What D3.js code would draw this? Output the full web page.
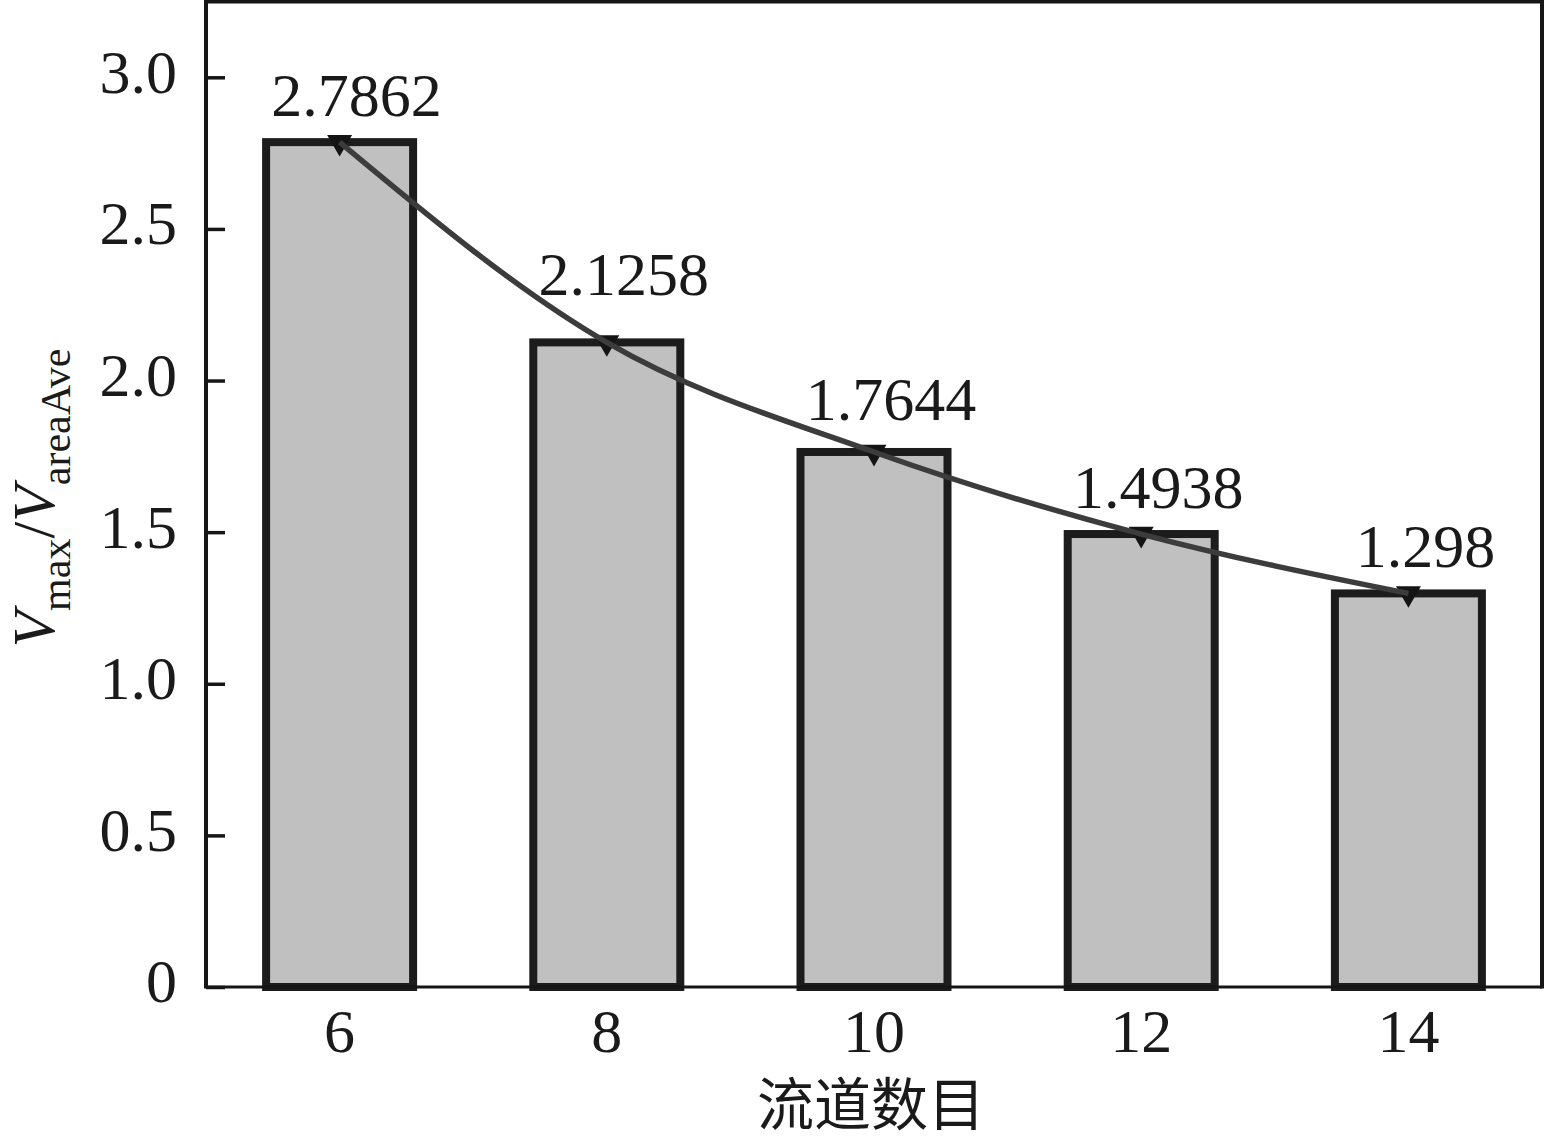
<!DOCTYPE html>
<html>
<head>
<meta charset="utf-8">
<script src="https://cdn.jsdelivr.net/npm/d3@7"></script>
<style>
  html, body { margin: 0; padding: 0; background: #fff; }
  svg { display: block; }
</style>
</head>
<body>
<svg id="chart" width="1545" height="1140"></svg>
<script>
// ---- data ----
const categories = ["6", "8", "10", "12", "14"];
const ratioValues = [2.7862, 2.1258, 1.7644, 1.4938, 1.298];
const valueLabels = ["2.7862", "2.1258", "1.7644", "1.4938", "1.298"];
const yTicks = [0, 0.5, 1.0, 1.5, 2.0, 2.5, 3.0];
const xTitle = "流道数目";

// ---- style / layout ----
const labelLift = [26, 47, 32, 26, 26];
const serif = "'Liberation Serif', 'Times New Roman', serif";
const plotLeft = 206, plotRight = 1542, plotTop = 1.5, plotBottom = 987;

const svg = d3.select("#chart");

const x = d3.scaleBand().domain(categories).range([plotLeft, plotRight]).paddingInner(0).paddingOuter(0);
const y = d3.scaleLinear().domain([0, 3.25]).range([plotBottom, plotTop]);
const barW = 147;
const cx = d => x(d) + x.bandwidth() / 2;

// bars
svg.append("g").selectAll("rect")
  .data(categories)
  .join("rect")
  .attr("x", (d) => cx(d) - barW / 2)
  .attr("width", barW)
  .attr("y", (d, i) => y(ratioValues[i]))
  .attr("height", (d, i) => y(0) - y(ratioValues[i]))
  .attr("fill", "#c0c0c0")
  .attr("stroke", "#1c1c1c")
  .attr("stroke-width", 8);

// frame
const frame = svg.append("g").attr("stroke", "#161616");
frame.append("line").attr("x1", plotLeft).attr("x2", plotLeft).attr("y1", 0).attr("y2", plotBottom + 1.5).attr("stroke-width", 4);
frame.append("line").attr("x1", plotLeft - 2).attr("x2", plotRight + 2).attr("y1", plotTop).attr("y2", plotTop).attr("stroke-width", 4);
frame.append("line").attr("x1", plotRight).attr("x2", plotRight).attr("y1", 0).attr("y2", plotBottom + 1.5).attr("stroke-width", 4);
frame.append("line").attr("x1", plotLeft).attr("x2", plotRight).attr("y1", plotBottom).attr("y2", plotBottom).attr("stroke-width", 3);

// y axis
const yAxis = d3.axisLeft(y)
  .tickValues(yTicks)
  .tickSizeInner(-19)
  .tickSizeOuter(0)
  .tickPadding(29)
  .tickFormat(d => d === 0 ? "0" : d3.format(".1f")(d));
const gy = svg.append("g").attr("transform", `translate(${plotLeft},0)`).call(yAxis);
gy.select(".domain").remove();
gy.selectAll(".tick line").attr("stroke", "#161616").attr("stroke-width", 3.5);
gy.selectAll(".tick text")
  .attr("font-family", serif)
  .attr("font-size", 62)
  .attr("fill", "#1a1a1a")
  .attr("dy", "0.24em");

// x axis
const xAxis = d3.axisBottom(x).tickSize(0).tickPadding(21);
const gx = svg.append("g").attr("transform", `translate(0,${plotBottom})`).call(xAxis);
gx.select(".domain").remove();
gx.selectAll(".tick text")
  .attr("font-family", serif)
  .attr("font-size", 62)
  .attr("fill", "#1a1a1a");

// markers
const tri = d3.symbol().type(d3.symbolTriangle).size(270);
svg.append("g").selectAll("path")
  .data(categories)
  .join("path")
  .attr("d", tri)
  .attr("transform", (d, i) => `translate(${cx(d)},${y(ratioValues[i])}) rotate(180)`)
  .attr("fill", "#141414");

// smooth curve
const line = d3.line()
  .x((d, i) => cx(categories[i]))
  .y(d => y(d))
  .curve(d3.curveMonotoneX);
svg.append("path")
  .datum(ratioValues)
  .attr("d", line)
  .attr("fill", "none")
  .attr("stroke", "#3c3c3c")
  .attr("stroke-width", 5.5);

// value labels
svg.append("g").selectAll("text")
  .data(categories)
  .join("text")
  .attr("x", d => cx(d) + 17)
  .attr("y", (d, i) => y(ratioValues[i]) - labelLift[i])
  .attr("text-anchor", "middle")
  .attr("font-family", serif)
  .attr("font-size", 62)
  .attr("fill", "#1a1a1a")
  .text((d, i) => valueLabels[i]);

// x title
svg.append("text")
  .attr("x", 871)
  .attr("y", 1125)
  .attr("text-anchor", "middle")
  .attr("font-family", "'Noto Sans CJK SC', sans-serif")
  .attr("font-size", 57)
  .attr("fill", "#1a1a1a")
  .text(xTitle);

// y title
const yt = svg.append("text")
  .attr("transform", "translate(54,498) rotate(-90)")
  .attr("text-anchor", "middle")
  .attr("font-family", serif)
  .attr("font-size", 60)
  .attr("fill", "#1a1a1a");
yt.append("tspan").attr("font-style", "italic").text("V");
yt.append("tspan").attr("font-size", 42).attr("dy", 16).text("max");
yt.append("tspan").attr("dy", -16).text("/");
yt.append("tspan").attr("font-style", "italic").text("V");
yt.append("tspan").attr("font-size", 42).attr("dy", 16).text("areaAve");
</script>
</body>
</html>
